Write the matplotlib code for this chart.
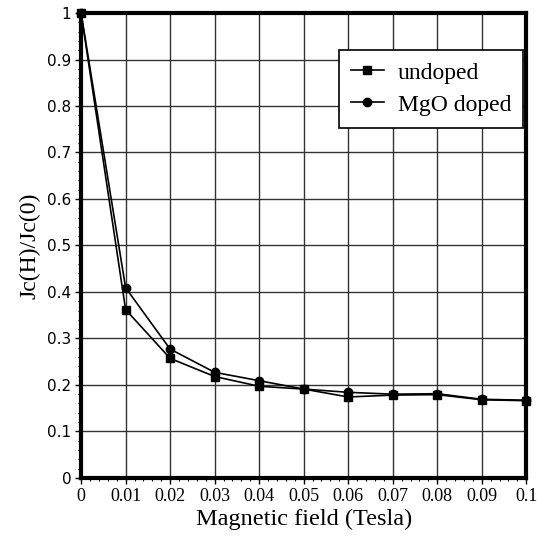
import matplotlib
matplotlib.use("Agg")
import matplotlib.pyplot as plt
from matplotlib.ticker import MultipleLocator, FixedLocator, FixedFormatter

field = [0, 0.01, 0.02, 0.03, 0.04, 0.05, 0.06, 0.07, 0.08, 0.09, 0.1]
undoped = [1.0, 0.362, 0.257, 0.218, 0.197, 0.191, 0.174, 0.178, 0.179, 0.168, 0.166]
mgo_doped = [1.0, 0.409, 0.277, 0.227, 0.209, 0.191, 0.184, 0.180, 0.181, 0.169, 0.167]
xticks = [0, 0.01, 0.02, 0.03, 0.04, 0.05, 0.06, 0.07, 0.08, 0.09, 0.1]
xticklabels = ["0", "0.01", "0.02", "0.03", "0.04", "0.05", "0.06", "0.07", "0.08", "0.09", "0.1"]
yticks = [0, 0.1, 0.2, 0.3, 0.4, 0.5, 0.6, 0.7, 0.8, 0.9, 1.0]
yticklabels = ["0", "0.1", "0.2", "0.3", "0.4", "0.5", "0.6", "0.7", "0.8", "0.9", "1"]

plt.rcParams['font.family'] = ['Liberation Serif', 'DejaVu Serif']

fig = plt.figure(figsize=(5.37, 5.43), dpi=100)
ax = fig.add_axes([0.151, 0.12, 0.829, 0.856])

ax.plot(field, undoped, color='black', lw=1.2, marker='s', markersize=6, label='undoped', zorder=3, clip_on=False)
ax.plot(field, mgo_doped, color='black', lw=1.2, marker='o', markersize=6, label='MgO doped', zorder=3, clip_on=False)

ax.set_xlim(0, 0.1)
ax.set_ylim(0, 1)
ax.xaxis.set_major_locator(FixedLocator(xticks))
ax.xaxis.set_major_formatter(FixedFormatter(xticklabels))
ax.yaxis.set_major_locator(FixedLocator(yticks))
ax.yaxis.set_major_formatter(FixedFormatter(yticklabels))
ax.xaxis.set_minor_locator(MultipleLocator(0.002))
ax.yaxis.set_minor_locator(MultipleLocator(0.02))

ax.grid(True, which='major', color='#333333', lw=1.0)
ax.set_axisbelow(True)
for s in ax.spines.values():
    s.set_linewidth(3)
ax.tick_params(which='major', direction='out', length=4, width=1, pad=3)
ax.tick_params(axis='x', labelsize=13)
ax.tick_params(axis='y', labelsize=11)
for lab in ax.get_yticklabels():
    lab.set_family(['DejaVu Sans'])
ax.tick_params(which='minor', direction='out', length=2, width=0.8)

ax.set_xlabel('Magnetic field (Tesla)', fontsize=17.5, labelpad=3)
ax.set_ylabel('Jc(H)/Jc(0)', fontsize=17, labelpad=5)

leg = ax.legend(loc='upper right', bbox_to_anchor=(0.993, 0.92), fontsize=17, frameon=True,
                fancybox=False, shadow=False, edgecolor='black', framealpha=1,
                handlelength=1.4, borderpad=0.5, labelspacing=0.45, handletextpad=0.6,
                borderaxespad=0)
leg.get_frame().set_linewidth(1.2)

fig.savefig('out.png', dpi=100)
